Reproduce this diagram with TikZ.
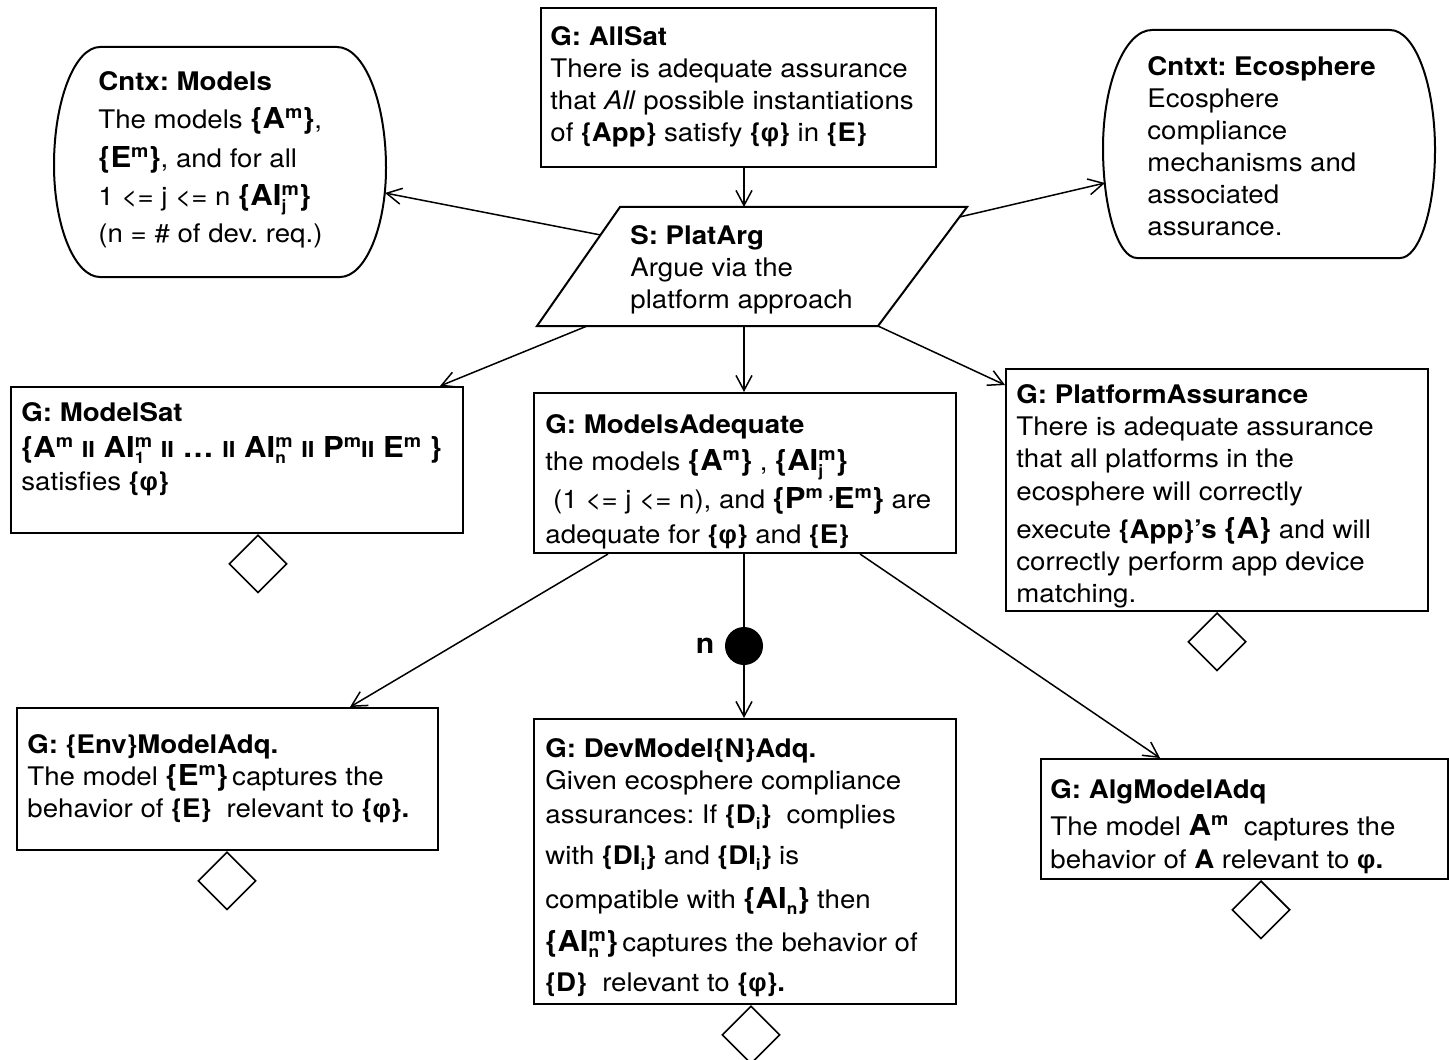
\documentclass[tikz,border=0pt]{standalone}
\usepackage{fontspec}
\setmainfont{TeX Gyre Heros}[FakeStretch=1.08]
\newfontfamily\greekfont{Liberation Sans}
\usetikzlibrary{arrows.meta,shapes.geometric,calc}
% small raised and lowered indices
\newcommand\sups[1]{\raisebox{0.36em}{\fontsize{9}{0}\selectfont #1}}
\newcommand\subs[1]{\raisebox{-0.22em}{\fontsize{8}{0}\selectfont #1}}
% index stacked under an exponent, e.g. AI_j^m
\newcommand\subsup[2]{\rlap{\subs{#1}}\sups{#2}}
% larger bold terms
\newcommand\bfl[1]{{\fontsize{14.4}{16}\selectfont\bfseries #1}}
% parallel-composition bars
\newcommand\pbar{{\fontsize{11}{16}\selectfont II}}
% property symbol
\newcommand\fy{{\greekfont φ}}
\frenchspacing
\begin{document}
\begin{tikzpicture}[x=0.5pt,y=-0.5pt,
  every node/.style={font=\fontsize{12.8}{16}\selectfont},
  goal/.style={draw,line width=1pt,rectangle,inner sep=0pt,anchor=north west},
  txt/.style={anchor=north west,align=left,inner sep=0pt},
  ctxline/.style={draw,line width=1pt},
  undev/.style={draw,line width=0.8pt,diamond,aspect=1,minimum width=29pt,minimum height=29pt,inner sep=0pt,anchor=north},
  arr/.style={line width=0.75pt,-{Straight Barb[length=7.5pt,width=8pt]}},
  link/.style={line width=0.75pt}]
\useasboundingbox (0,0) rectangle (1449,1059);

% ---------- top goal ----------
\node[goal,minimum width=197.5pt,minimum height=79.5pt] (allsat) at (540,7) {};
\node[txt] (allsattxt) at (550,22.6) {\strut\textbf{G: AllSat}\\
There is adequate assurance\\
that \textit{All} possible instantiations\\
of \textbf{\{App\}} satisfy \textbf{\{\fy\}} in \textbf{\{E\}}};

% ---------- context: models ----------
\draw[ctxline] (100,47) -- (337,47) .. controls (364,47) and (386,101) .. (386,168)
  .. controls (386,228) and (365,277) .. (340,277) -- (100,277)
  .. controls (75,277) and (54,227) .. (54,165) .. controls (54,100) and (75,47) .. cycle;
\coordinate (cntxin) at (385,193);
\node[txt] (cntx) at (98,67.6) {\strut\textbf{Cntx: Models}\\[3pt]
The models \bfl{\{A\sups{m}\}},\\[3.5pt]
\bfl{\{E\sups{m}\}}, and for all\\[3pt]
1 <= j <= n \bfl{\{AI\subsup{j}{m}\}}\\[2.5pt]
(n = \# of dev. req.)};

% ---------- context: ecosphere ----------
\draw[ctxline] (1152,30) -- (1390,30) .. controls (1415,30) and (1435,84) .. (1435,150)
  .. controls (1435,210) and (1419,258) .. (1400,258) -- (1137,258)
  .. controls (1118,258) and (1103,209) .. (1103,148) .. controls (1103,83) and (1125,30) .. cycle;
\coordinate (ecoin) at (1105,183);
\node[txt] (eco) at (1147,52.6) {\strut\textbf{Cntxt: Ecosphere}\\
Ecosphere\\ compliance\\ mechanisms and\\ associated\\ assurance.};

% ---------- strategy ----------
\coordinate (pTL) at (620,207);
\coordinate (pTR) at (967,207);
\coordinate (pBR) at (878,326);
\coordinate (pBL) at (537,326);
\draw[line width=1pt] (pTL) -- (pTR) -- (pBR) -- (pBL) -- cycle;
\node[txt] (plat) at (630,221.6) {\strut\textbf{S: PlatArg}\\
Argue via the\\ platform approach};

% ---------- sub-goals ----------
\node[goal,minimum width=226pt,minimum height=73pt] (ms) at (10,386) {};
\node[txt] (mstxt) at (21,398.6) {\strut\textbf{G: ModelSat}\\[2pt]
\bfl{\{A\sups{m} \pbar{} AI\subsup{1}{m} \pbar{} … \pbar{} AI\subsup{n}{m} \pbar{} P\sups{m}\pbar{} E\sups{m} \}}\\[0.5pt]
satisfies \textbf{\{\fy\}}};

\node[goal,minimum width=211pt,minimum height=80pt] (madq) at (533,392) {};
\node[txt] (madqtxt) at (545,410.6) {\strut\textbf{G: ModelsAdequate}\\[2.5pt]
the models \bfl{\{A\sups{m}\}} , \bfl{\{AI\subsup{j}{m}\}}\\[3pt]
\hspace{0.3em}(1 <= j <= n), and \bfl{\{P\sups{m ,}E\sups{m}\}} are\\[1.5pt]
adequate for \textbf{\{\fy\}} and \textbf{\{E\}}};

\node[goal,minimum width=211pt,minimum height=121pt] (pa) at (1005,368) {};
\node[txt] (patxt) at (1016,380.6) {\strut\textbf{G: PlatformAssurance}\\
There is adequate assurance\\
that all platforms in the\\[0.5pt]
ecosphere will correctly\\[3pt]
execute \textbf{\{App\}’s} \bfl{\{A\}} and will\\
correctly perform app device\\
matching.};

\node[goal,minimum width=210.5pt,minimum height=71pt] (env) at (16,707) {};
\node[txt] (envtxt) at (27,730.6) {\strut\textbf{G: \{Env\}ModelAdq.}\\
The model \bfl{\{E\sups{m}\}}\,captures the\\
behavior of \textbf{\{E\}}\ \ relevant to \textbf{\{\fy\}.}};

\node[goal,minimum width=211pt,minimum height=142.5pt] (dev) at (533,718) {};
\node[txt] (devtxt) at (545,734.6) {\strut\textbf{G: DevModel\{N\}Adq.}\\
Given ecosphere compliance\\[1pt]
assurances: If \textbf{\{D\subs{i}\}}\ \ complies\\[4.5pt]
with \textbf{\{DI\subs{i}\}} and \textbf{\{DI\subs{i}\}} is\\[6pt]
compatible with \bfl{\{AI\subs{n}\}} then\\[5.5pt]
\bfl{\{AI\subsup{n}{m}\}}\,captures the behavior of\\[4pt]
\textbf{\{D\}}\ \ relevant to \textbf{\{\fy\}.}};

\node[goal,minimum width=203.5pt,minimum height=60pt] (alg) at (1040,758) {};
\node[txt] (algtxt) at (1050,775.6) {\strut\textbf{G: AlgModelAdq}\\[2.5pt]
The model \bfl{A\sups{m}}\ \ captures the\\[0.5pt]
behavior of \textbf{A} relevant to \textbf{\fy.}};

% ---------- multiplicity marker ----------
\node[circle,fill,minimum size=19pt,inner sep=0pt] (rep) at (744,646) {};
\node[font=\fontsize{14}{16}\selectfont\bfseries] (replbl) at (705,646) {n};

% ---------- undeveloped markers ----------
\node[undev] (msd) at ($(ms.south west)+(248,0)$) {};
\node[undev] (pad) at ($(pa.south west)+(212,0)$) {};
\node[undev] (envd) at ($(env.south west)+(211,0)$) {};
\node[undev] (devd) at ($(dev.south west)+(218,0)$) {};
\node[undev] (algd) at ($(alg.south west)+(221,0)$) {};

% ---------- connectors ----------
\draw[arr] (allsat.south -| rep) -- (pTL -| rep);
\draw[arr] ($(pTL)!0.235!(pBL)$) -- (cntxin);
\draw[arr] ($(pTR)!0.084!(pBR)$) -- (ecoin);
\draw[arr] ($(pBL)!0.147!(pBR)$) -- ($(ms.north west)+(430,0)$);
\draw[arr] (pBL -| rep) -- (madq.north -| rep);
\draw[arr] (pBR) -- ($(pa.north west)+(0,17)$);
\draw[arr] ($(madq.south west)+(75,0)$) -- ($(env.north west)+(334,0)$);
\draw[link] (madq.south -| rep) -- (rep.north);
\draw[arr] (rep.south) -- (dev.north -| rep);
\draw[arr] ($(madq.south west)+(327,0)$) -- ($(alg.north west)+(120,0)$);
\end{tikzpicture}
\end{document}
